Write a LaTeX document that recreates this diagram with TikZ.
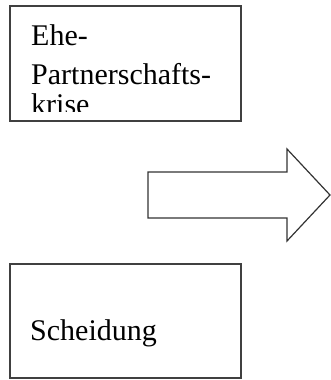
\documentclass[tikz,border=0pt]{standalone}
\usepackage{fontspec}
\setmainfont{Liberation Serif}
\begin{document}
\begin{tikzpicture}[x=1pt,y=1pt,
  boxstyle/.style={draw=black!75,line width=1.6pt},
  txt/.style={anchor=base west,inner sep=0pt,font=\fontsize{30}{39}\selectfont},
  bigarrow/.style={draw=black!80,line width=1.2pt,line join=miter}]
\useasboundingbox (0,0) rectangle (331,-380);
% top box
\draw[boxstyle] (10,-6) rectangle (241,-121);
\node[txt] (ehe) at (31,-45) {Ehe-};
\node[txt] (partner) at (31,-84) {Partnerschafts-};
\begin{scope}
\clip (10,-6) rectangle (241,-111.5);
\node[txt] (krise) at (31,-114) {krise};
\end{scope}
% arrow
\draw[bigarrow] (148,-172) -- (287,-172) -- (287,-149) -- (330,-195) -- (287,-241) -- (287,-218) -- (148,-218) -- cycle;
% bottom box
\draw[boxstyle] (10,-264) rectangle (241,-378);
\node[txt] (scheidung) at (30,-340) {Scheidung};
\end{tikzpicture}
\end{document}
